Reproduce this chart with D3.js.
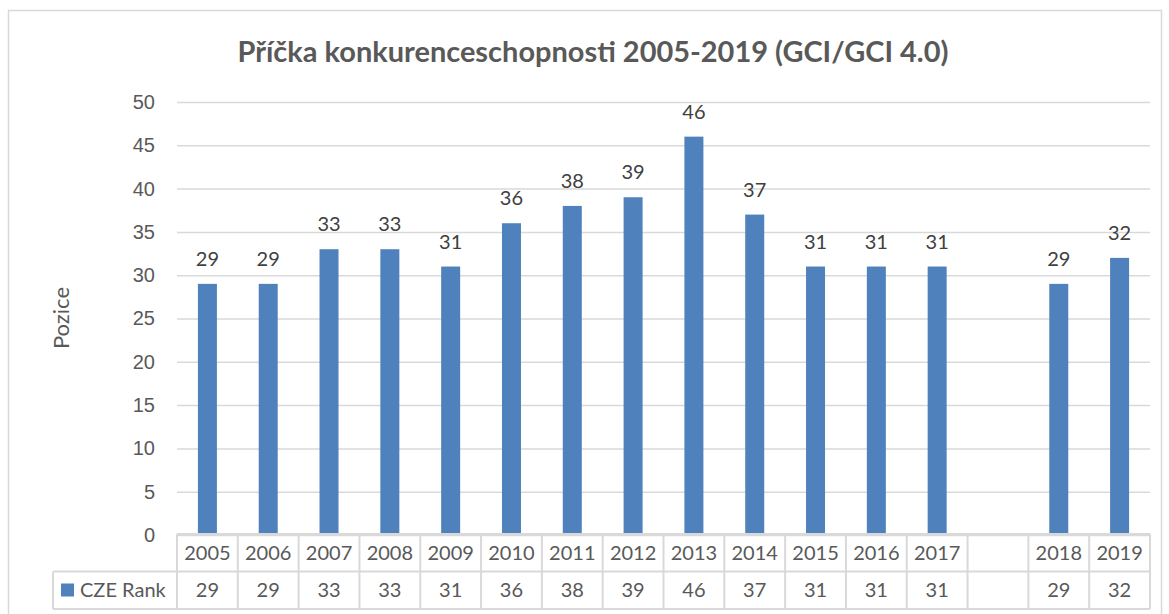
<!DOCTYPE html>
<html lang='cs'>
<head>
<meta charset='utf-8'>
<title>Příčka konkurenceschopnosti</title>
<script src="https://d3js.org/d3.v7.min.js"></script>
<style>
  body { margin: 0; background: #fff; }
  svg { display: block; font-family: Lato, 'Open Sans', sans-serif; }
</style>
</head>
<body>
<script>
// data
var years = ['2005','2006','2007','2008','2009','2010','2011','2012','2013','2014','2015','2016','2017','','2018','2019'];
var ranks = [29, 29, 33, 33, 31, 36, 38, 39, 46, 37, 31, 31, 31, null, 29, 32];
var yTicks = [0, 5, 10, 15, 20, 25, 30, 35, 40, 45, 50];
var seriesName = 'CZE Rank';

var W = 1169, H = 614;
var plot = {left: 177, right: 1150, top: 102, bottom: 535};
var rowH = 37.5;
var grey = '#595959', lineCol = '#d9d9d9', barCol = '#4f81bd';

var svg = d3.select('body').append('svg')
    .attr('width', W).attr('height', H);

// outer chart border
svg.append('rect')
    .attr('x', 8.5).attr('y', 10.5)
    .attr('width', 1153).attr('height', 640)
    .attr('fill', 'none').attr('stroke', lineCol).attr('stroke-width', 1.5);

var x = d3.scaleBand().domain(d3.range(years.length))
    .range([plot.left, plot.right]).padding(0);
var y = d3.scaleLinear().domain([0, 50]).range([plot.bottom, plot.top]);

// gridlines + y labels
var yAxis = d3.axisLeft(y).tickValues(yTicks)
    .tickSize(-(plot.right - plot.left)).tickPadding(22);
var ga = svg.append('g').attr('transform', 'translate(' + plot.left + ',0)').call(yAxis);
ga.select('.domain').remove();
ga.selectAll('.tick line').attr('stroke', lineCol).attr('stroke-width', 1.5);
ga.selectAll('.tick text').attr('fill', grey).attr('font-size', 20);

// title
svg.append('text')
    .attr('x', 593).attr('y', 62)
    .attr('text-anchor', 'middle')
    .attr('font-size', 28).attr('font-weight', 'bold').attr('fill', grey)
    .attr('textLength', 711).attr('lengthAdjust', 'spacingAndGlyphs')
    .text('Příčka konkurenceschopnosti 2005-2019 (GCI/GCI 4.0)');

// y axis title
svg.append('text')
    .attr('transform', 'translate(69,318) rotate(-90)')
    .attr('text-anchor', 'middle')
    .attr('font-size', 22).attr('fill', grey)
    .text('Pozice');

// bars
var barW = 19;
var idx = d3.range(years.length).filter(function(i) { return ranks[i] != null; });
svg.append('g').selectAll('rect').data(idx).join('rect')
    .attr('x', function(i) { return x(i) + x.bandwidth() / 2 - barW / 2; })
    .attr('y', function(i) { return y(ranks[i]); })
    .attr('width', barW)
    .attr('height', function(i) { return y(0) - y(ranks[i]); })
    .attr('fill', barCol);

// data labels
svg.append('g').selectAll('text').data(idx).join('text')
    .attr('x', function(i) { return x(i) + x.bandwidth() / 2; })
    .attr('y', function(i) { return y(ranks[i]) - 18; })
    .attr('text-anchor', 'middle')
    .attr('font-size', 20).attr('fill', '#404040')
    .text(function(i) { return ranks[i]; });

// data table
var t0 = plot.bottom - 1, t1 = t0 + rowH, t2 = t1 + rowH;
var tbl = svg.append('g').attr('stroke', lineCol).attr('stroke-width', 2).attr('fill', 'none');
tbl.append('line').attr('x1', plot.left).attr('x2', plot.right).attr('y1', t0).attr('y2', t0);
tbl.append('line').attr('x1', 53).attr('x2', plot.right).attr('y1', t1).attr('y2', t1);
tbl.append('line').attr('x1', 53).attr('x2', plot.right).attr('y1', t2).attr('y2', t2);
tbl.append('line').attr('x1', 53).attr('x2', 53).attr('y1', t1).attr('y2', t2);
tbl.selectAll('line.v').data(d3.range(years.length + 1)).join('line')
    .attr('class', 'v')
    .attr('x1', function(i) { return i < years.length ? x(i) : plot.right; })
    .attr('x2', function(i) { return i < years.length ? x(i) : plot.right; })
    .attr('y1', t0).attr('y2', t2);

svg.append('g').selectAll('text').data(years).join('text')
    .attr('x', function(d, i) { return x(i) + x.bandwidth() / 2; })
    .attr('y', t0 + rowH / 2 + 7)
    .attr('text-anchor', 'middle')
    .attr('font-size', 20).attr('fill', grey)
    .text(function(d) { return d; });

svg.append('g').selectAll('text').data(idx).join('text')
    .attr('x', function(i) { return x(i) + x.bandwidth() / 2; })
    .attr('y', t1 + rowH / 2 + 7)
    .attr('text-anchor', 'middle')
    .attr('font-size', 20).attr('fill', grey)
    .text(function(i) { return ranks[i]; });

// legend key in table
svg.append('rect')
    .attr('x', 61).attr('y', t1 + 12).attr('width', 13).attr('height', 13)
    .attr('fill', barCol);
svg.append('text')
    .attr('x', 80).attr('y', t1 + rowH / 2 + 7)
    .attr('font-size', 20).attr('fill', grey)
    .text(seriesName);
</script>
</body>
</html>
